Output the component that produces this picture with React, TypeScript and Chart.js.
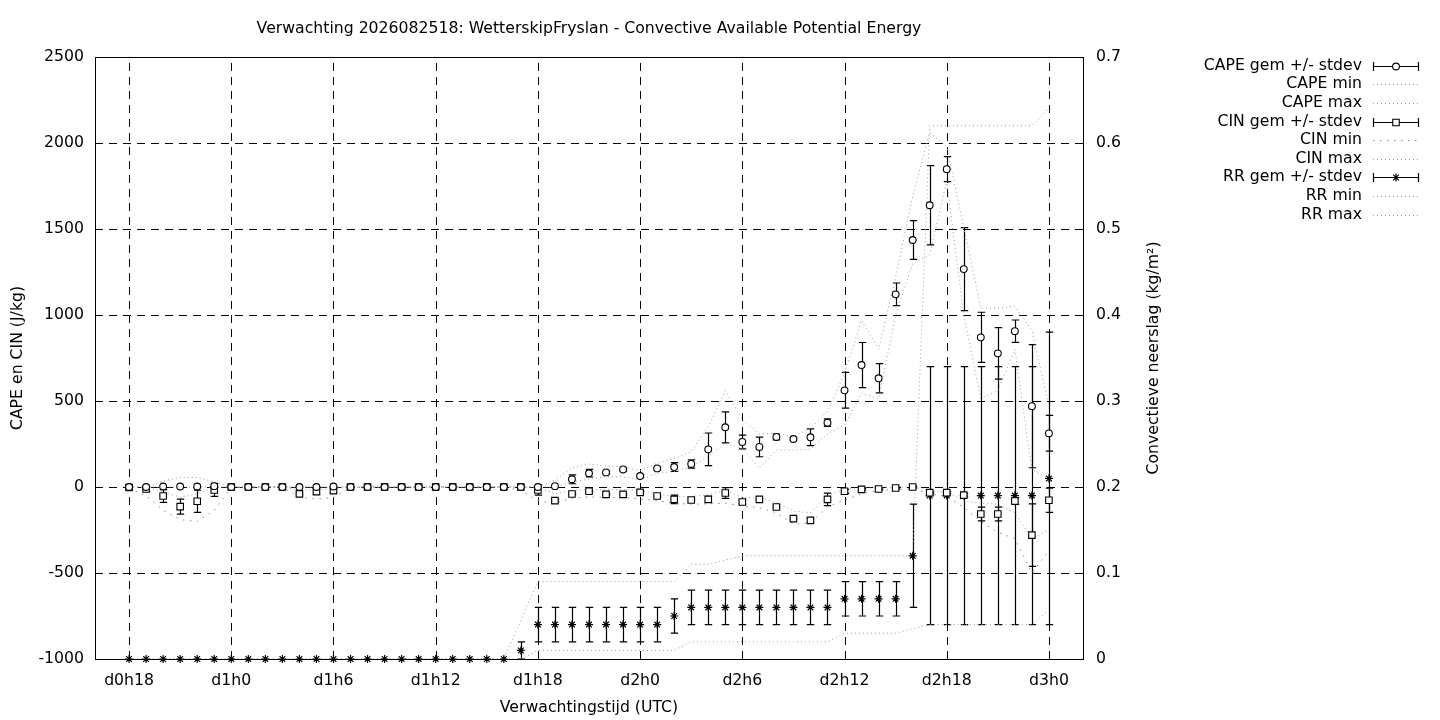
import React, { useEffect, useRef } from 'react';
import { Chart, registerables } from 'chart.js';

Chart.register(...registerables);

const hours = [18, 19, 20, 21, 22, 23, 24, 25, 26, 27, 28, 29, 30, 31, 32, 33, 34, 35, 36, 37, 38, 39, 40, 41, 42, 43, 44, 45, 46, 47, 48, 49, 50, 51, 52, 53, 54, 55, 56, 57, 58, 59, 60, 61, 62, 63, 64, 65, 66, 67, 68, 69, 70, 71, 72];

const xTickValues = [18, 24, 30, 36, 42, 48, 54, 60, 66, 72];
const xTickLabels = ['d0h18', 'd1h0', 'd1h6', 'd1h12', 'd1h18', 'd2h0', 'd2h6', 'd2h12', 'd2h18', 'd3h0'];

const capeMean = [0, 0, 3, 3, 3, 5, 0, 0, 0, 0, 0, 0, 3, 0, 0, 0, 0, 0, 0, 0, 0, 0, 0, 0, 0, 5,
  45, 80, 85, 102, 64, 108, 116, 134, 219, 347, 262, 233, 291, 279, 289, 374, 562, 709, 632, 1120, 1436, 1638, 1848, 1267, 870, 777, 906, 470, 312];
const capeStd = [0, 0, 0, 0, 0, 8, 0, 0, 0, 0, 0, 0, 0, 0, 0, 0, 0, 0, 0, 0, 0, 0, 0, 0, 0, 0,
  26, 22, 8, 8, 8, 8, 26, 24, 95, 90, 40, 57, 17, 8, 49, 22, 104, 131, 85, 66, 113, 230, 73, 241, 146, 150, 65, 358, 104];
const capeMin = [0, 0, 0, 0, 0, 0, 0, 0, 0, 0, 0, 0, 0, 0, 0, 0, 0, 0, 0, 0, 0, 0, 0, 0, 0, 0,
  30, 45, 60, 60, 40, 80, 90, 118, 176, 254, 225, 110, 215, 215, 220, 310, 360, 545, 515, 1000, 1300, 1350, 1780, 1000, 515, 560, 800, 100, 50];
const capeMax = [0, 0, 35, 55, 55, 30, 0, 0, 0, 0, 0, 0, 0, 0, 0, 0, 0, 0, 0, 0, 0, 0, 0, 0, 0,
  40, 110, 134, 122, 118, 95, 138, 165, 205, 350, 560, 390, 310, 310, 295, 340, 440, 660, 970, 800, 1220, 1690, 2060, 1980, 1510, 1040, 1040, 1050, 910, 470];

const cinMean = [-3, -12, -52, -114, -83, -17, 0, 0, 0, 0, -40, -27, -21, 0, 0, 0, 0, 0, 0, 0, 0, 0, 0, 0,
  -17, -79, -41, -25, -43, -43, -31, -52, -72, -76, -72, -35, -87, -72, -116, -184, -194, -72, -25, -14, -12, -6, 0, -33, -33, -47, -157, -157, -81, -280, -77];
const cinStd = [0, 15, 37, 44, 64, 38, 0, 0, 0, 0, 5, 15, 10, 0, 0, 0, 0, 0, 0, 0, 0, 0, 0, 0,
  30, 8, 5, 5, 5, 5, 5, 5, 25, 5, 17, 31, 12, 5, 5, 5, 10, 36, 12, 5, 5, 5, 5, 5, 5, 10, 40, 40, 20, 182, 70];
const cinMin = [-10, -50, -135, -190, -200, -135, -5, 0, 0, 0, -60, -70, -60, -5, 0, 0, 0, 0, 0, 0, 0, 0, 0, -20,
  -80, -95, -65, -57, -62, -60, -70, -80, -95, -100, -98, -95, -110, -120, -150, -215, -210, -115, -76, -40, -20, -15, -10, -40, -55, -120, -200, -265, -300, -500, -370];
const cinMax = [0, -5, -25, -60, -40, 0, 0, 0, 0, 0, -20, -15, -10, 0, 0, 0, 0, 0, 0, 0, 0, 0, 0, 0,
  0, -40, -20, -15, -15, -15, -20, -40, -55, -55, -45, -20, -60, -60, -90, -140, -150, -50, -10, -5, -5, 0, 0, -20, -30, -80, -95, -100, -150, -300, -250];

const rrMean = [0, 0, 0, 0, 0, 0, 0, 0, 0, 0, 0, 0, 0, 0, 0, 0, 0, 0, 0, 0, 0, 0, 0, 0.01,
  0.04, 0.04, 0.04, 0.04, 0.04, 0.04, 0.04, 0.04, 0.05, 0.06, 0.06, 0.06, 0.06, 0.06, 0.06, 0.06, 0.06, 0.06,
  0.07, 0.07, 0.07, 0.07, 0.12, 0.19, 0.19, 0.19, 0.19, 0.19, 0.19, 0.19, 0.21];
const rrStd = [0, 0, 0, 0, 0, 0, 0, 0, 0, 0, 0, 0, 0, 0, 0, 0, 0, 0, 0, 0, 0, 0, 0, 0.01,
  0.02, 0.02, 0.02, 0.02, 0.02, 0.02, 0.02, 0.02, 0.02, 0.02, 0.02, 0.02, 0.02, 0.02, 0.02, 0.02, 0.02, 0.02,
  0.02, 0.02, 0.02, 0.02, 0.06, 0.15, 0.15, 0.15, 0.15, 0.15, 0.15, 0.15, 0.17];
const rrMin = [0, 0, 0, 0, 0, 0, 0, 0, 0, 0, 0, 0, 0, 0, 0, 0, 0, 0, 0, 0, 0, 0, 0, 0,
  0.01, 0.01, 0.01, 0.01, 0.01, 0.01, 0.01, 0.01, 0.01, 0.02, 0.02, 0.02, 0.02, 0.02, 0.02, 0.02, 0.02, 0.02,
  0.03, 0.03, 0.03, 0.03, 0.035, 0.04, 0.04, 0.04, 0.04, 0.04, 0.04, 0.04, 0.057];
const rrMax = [0, 0, 0, 0, 0, 0, 0, 0, 0, 0, 0, 0, 0, 0, 0, 0, 0, 0, 0, 0, 0, 0, 0, 0.045,
  0.09, 0.09, 0.09, 0.09, 0.09, 0.09, 0.09, 0.09, 0.09, 0.11, 0.11, 0.115, 0.12, 0.12, 0.12, 0.12, 0.12, 0.12,
  0.12, 0.12, 0.12, 0.12, 0.12, 0.62, 0.62, 0.62, 0.62, 0.62, 0.62, 0.62, 0.64];

const titleText = 'Verwachting 2026082518: WetterskipFryslan - Convective Available Potential Energy';
const y2TitleText = 'Convectieve neerslag (kg/m²)';
const legendLabels = ['CAPE gem +/- stdev', 'CAPE min', 'CAPE max', 'CIN gem +/- stdev', 'CIN min', 'CIN max', 'RR gem +/- stdev', 'RR min', 'RR max'];

const FONT = 'DejaVu Sans';
const FS = 15.7;
const DOT = '#9a9a9a';
const dotDash = [1, 3];
const sparseDash = [1.5, 5.5];

const pts = (vals: number[]) => hours.map((h, i) => ({ x: h, y: vals[i] }));

const meanDs = (label: string, vals: number[], err: number[], style: string, r: number, axis: string) => ({
  label,
  data: pts(vals),
  errStd: err,
  yAxisID: axis,
  showLine: false,
  pointStyle: style,
  pointRadius: r,
  pointBorderWidth: style === 'star' ? 1.2 : 1.1,
  pointBorderColor: '#000',
  pointBackgroundColor: '#fff',
  borderColor: '#000',
  backgroundColor: '#fff',
  clip: false,
});

const lineDs = (label: string, vals: number[], dash: number[], axis: string, color: string) => ({
  label,
  data: pts(vals),
  yAxisID: axis,
  showLine: true,
  borderColor: color,
  borderWidth: 1,
  borderDash: dash,
  pointRadius: 0,
  tension: 0,
  fill: false,
});

const drawPlugin = {
  id: 'gnuplotLook',
  beforeDatasetsDraw(chart: any) {
    const { ctx, chartArea: a, scales } = chart;
    ctx.save();
    ctx.strokeStyle = '#000';
    ctx.lineWidth = 1;
    ctx.setLineDash([8, 6]);
    xTickValues.forEach((v) => {
      const x = Math.round(scales.x.getPixelForValue(v)) + 0.5;
      ctx.beginPath();
      ctx.moveTo(x, a.bottom);
      ctx.lineTo(x, a.top);
      ctx.stroke();
    });
    scales.y.ticks.forEach((t: any) => {
      if (t.value <= -1000 || t.value >= 2500) return;
      const y = Math.round(scales.y.getPixelForValue(t.value)) + 0.5;
      ctx.beginPath();
      ctx.moveTo(a.left, y);
      ctx.lineTo(a.right, y);
      ctx.stroke();
    });
    ctx.setLineDash([]);
    chart.data.datasets.forEach((ds: any, i: number) => {
      if (!ds.errStd) return;
      const meta = chart.getDatasetMeta(i);
      const ys = scales[ds.yAxisID];
      ctx.strokeStyle = '#000';
      ctx.lineWidth = 1.2;
      meta.data.forEach((el: any, j: number) => {
        const s = ds.errStd[j];
        if (!s) return;
        const m = ds.data[j].y;
        const x = Math.round(el.x) + 0.5;
        const y1 = ys.getPixelForValue(m - s);
        const y2 = ys.getPixelForValue(m + s);
        ctx.beginPath();
        ctx.moveTo(x, y1);
        ctx.lineTo(x, y2);
        ctx.moveTo(x - 3.7, y1);
        ctx.lineTo(x + 3.7, y1);
        ctx.moveTo(x - 3.7, y2);
        ctx.lineTo(x + 3.7, y2);
        ctx.stroke();
      });
    });
    ctx.restore();
  },
  afterDraw(chart: any) {
    const { ctx, chartArea: a } = chart;
    ctx.save();
    ctx.strokeStyle = '#000';
    ctx.lineWidth = 1;
    ctx.strokeRect(a.left + 0.5, a.top + 0.5, a.right - a.left, a.bottom - a.top);
    ctx.fillStyle = '#000';
    ctx.font = `${FS}px "${FONT}"`;
    ctx.textAlign = 'center';
    ctx.textBaseline = 'middle';
    ctx.fillText(titleText, (a.left + a.right) / 2, 29);
    ctx.save();
    ctx.translate(1154, (a.top + a.bottom) / 2);
    ctx.rotate(-Math.PI / 2);
    ctx.fillText(y2TitleText, 0, 0);
    ctx.restore();
    const textRight = 1362;
    const sx1 = 1373;
    const sx2 = 1419;
    const y0 = 65.7;
    const dy = 18.6;
    const ds = chart.data.datasets;
    const legendOrder = [0, 3, 4, 1, 5, 6, 2, 7, 8];
    legendLabels.forEach((lab, k) => {
      const y = y0 + k * dy;
      ctx.fillStyle = '#000';
      ctx.textAlign = 'right';
      ctx.textBaseline = 'middle';
      ctx.font = `${FS}px "${FONT}"`;
      ctx.fillText(lab, textRight, y);
      const d = ds[legendOrder[k]];
      const yy = Math.round(y) + 0.5;
      if (d.errStd) {
        ctx.strokeStyle = '#000';
        ctx.lineWidth = 1.2;
        ctx.setLineDash([]);
        ctx.beginPath();
        ctx.moveTo(sx1, yy);
        ctx.lineTo(sx2, yy);
        ctx.moveTo(sx1 + 0.5, yy - 4.5);
        ctx.lineTo(sx1 + 0.5, yy + 4.5);
        ctx.moveTo(sx2 - 0.5, yy - 4.5);
        ctx.lineTo(sx2 - 0.5, yy + 4.5);
        ctx.stroke();
        ctx.fillStyle = '#fff';
        ctx.lineWidth = d.pointBorderWidth;
        const cx = (sx1 + sx2) / 2;
        const r = d.pointRadius;
        ctx.beginPath();
        if (d.pointStyle === 'circle') {
          ctx.arc(cx, yy, r, 0, Math.PI * 2);
          ctx.fill();
          ctx.stroke();
        } else if (d.pointStyle === 'rect') {
          const s = r * Math.SQRT1_2;
          ctx.rect(cx - s, yy - s, 2 * s, 2 * s);
          ctx.fill();
          ctx.stroke();
        } else {
          for (let q = 0; q < 4; q++) {
            const ang = (q * Math.PI) / 4;
            ctx.moveTo(cx - r * Math.cos(ang), yy - r * Math.sin(ang));
            ctx.lineTo(cx + r * Math.cos(ang), yy + r * Math.sin(ang));
          }
          ctx.stroke();
        }
      } else {
        ctx.strokeStyle = d.borderColor;
        ctx.lineWidth = 1;
        ctx.setLineDash(d.borderDash);
        ctx.beginPath();
        ctx.moveTo(sx1, yy);
        ctx.lineTo(sx2, yy);
        ctx.stroke();
        ctx.setLineDash([]);
      }
    });
    ctx.restore();
  },
};

export default function App() {
  const ref = useRef<HTMLCanvasElement | null>(null);
  useEffect(() => {
    document.body.style.margin = '0';
    if (!ref.current) return;
    const tickFont = { family: FONT, size: FS };
    const chart = new Chart(ref.current, {
      type: 'line',
      data: {
        datasets: [
          meanDs('CAPE gem +/- stdev', capeMean, capeStd, 'circle', 3.4, 'y') as any,
          meanDs('CIN gem +/- stdev', cinMean, cinStd, 'rect', 4.6, 'y') as any,
          meanDs('RR gem +/- stdev', rrMean, rrStd, 'star', 4, 'y2') as any,
          lineDs('CAPE min', capeMin, dotDash, 'y', DOT),
          lineDs('CAPE max', capeMax, dotDash, 'y', DOT),
          lineDs('CIN min', cinMin, sparseDash, 'y', '#888'),
          lineDs('CIN max', cinMax, dotDash, 'y', DOT),
          lineDs('RR min', rrMin, dotDash, 'y2', DOT),
          lineDs('RR max', rrMax, dotDash, 'y2', DOT),
        ],
      },
      options: {
        responsive: false,
        animation: false,
        devicePixelRatio: 1,
        layout: { padding: { left: 0, right: 277, top: 57, bottom: 0 } },
        plugins: { legend: { display: false }, title: { display: false }, tooltip: { enabled: false } },
        events: [],
        scales: {
          x: {
            type: 'linear',
            min: 16,
            max: 74,
            afterBuildTicks: (s: any) => {
              s.ticks = xTickValues.map((v) => ({ value: v }));
            },
            afterFit: (s: any) => {
              s.height = 61;
            },
            grid: { display: false, drawTicks: false },
            border: { display: false },
            ticks: {
              autoSkip: false,
              maxRotation: 0,
              padding: 13,
              color: '#000',
              font: tickFont,
              callback: (v: any) => {
                const i = xTickValues.indexOf(Number(v));
                return i >= 0 ? xTickLabels[i] : '';
              },
            },
            title: { display: true, text: 'Verwachtingstijd (UTC)', color: '#000', font: tickFont, padding: { top: 0, bottom: 2.6 } },
          },
          y: {
            type: 'linear',
            position: 'left',
            min: -1000,
            max: 2500,
            afterFit: (s: any) => {
              s.width = 95;
            },
            grid: { display: false, drawTicks: false },
            border: { display: false },
            ticks: { stepSize: 500, padding: 11, color: '#000', font: tickFont, callback: (v: any) => String(v) },
            title: { display: true, text: 'CAPE en CIN (J/kg)', color: '#000', font: tickFont, padding: { top: 9, bottom: 0 } },
          },
          y2: {
            type: 'linear',
            position: 'right',
            min: 0,
            max: 0.7,
            afterFit: (s: any) => {
              s.width = 80;
            },
            grid: { display: false, drawTicks: false },
            border: { display: false },
            ticks: {
              stepSize: 0.1,
              padding: 13,
              color: '#000',
              font: tickFont,
              callback: (v: any) => (Number(v) === 0 ? '0' : Number(v).toFixed(1)),
            },
            title: { display: false },
          },
        },
      } as any,
      plugins: [drawPlugin],
    });
    return () => chart.destroy();
  }, []);
  return (
    <div style={{ width: 1440, height: 720, position: 'relative', background: '#fff' }}>
      <canvas ref={ref} width={1440} height={720} style={{ display: 'block', width: 1440, height: 720 }} />
    </div>
  );
}
